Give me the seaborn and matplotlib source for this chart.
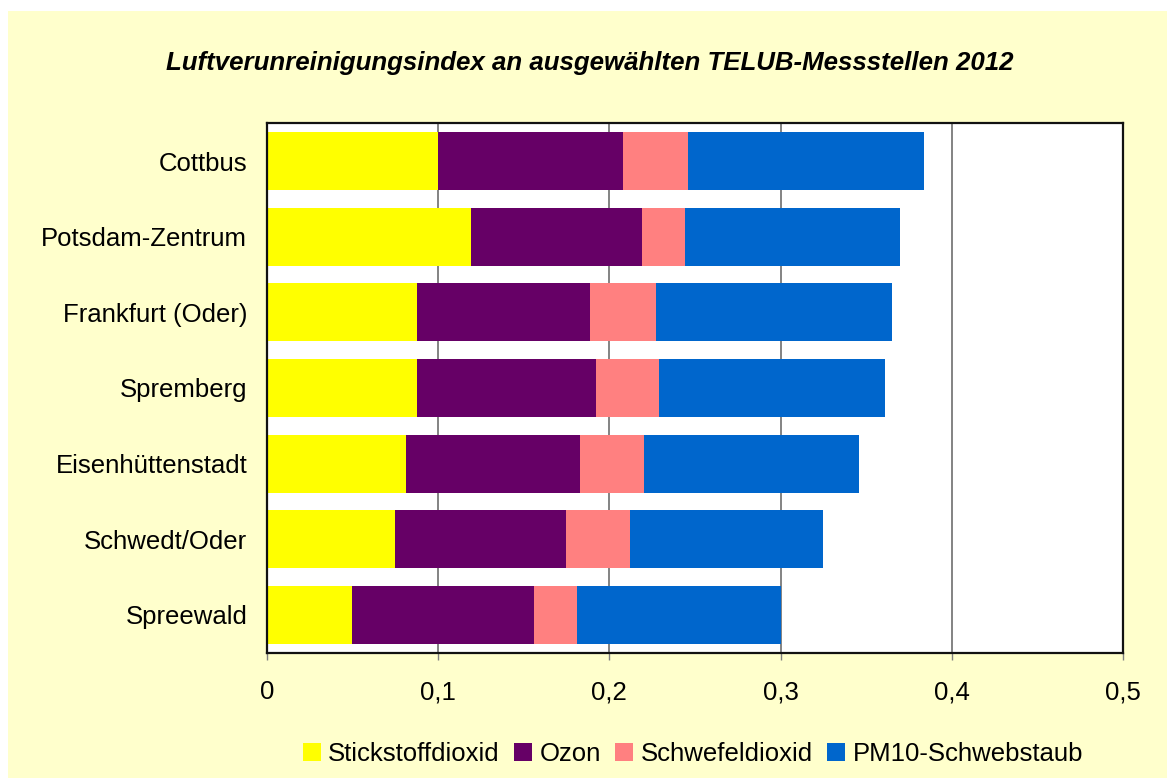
import numpy as np
import matplotlib
matplotlib.use("Agg")
import matplotlib.pyplot as plt
import seaborn as sns
from matplotlib.patches import Rectangle, Patch
from matplotlib.ticker import FuncFormatter

# Data (index values per pollutant)
stations = ["Cottbus", "Potsdam-Zentrum", "Frankfurt (Oder)", "Spremberg",
            "Eisenhüttenstadt", "Schwedt/Oder", "Spreewald"]
stickstoffdioxid = [0.100, 0.119, 0.088, 0.088, 0.081, 0.075, 0.050]
ozon = [0.108, 0.100, 0.101, 0.104, 0.102, 0.100, 0.106]
schwefeldioxid = [0.038, 0.025, 0.038, 0.037, 0.037, 0.037, 0.025]
pm10 = [0.138, 0.126, 0.138, 0.132, 0.126, 0.113, 0.119]

series_names = ["Stickstoffdioxid", "Ozon", "Schwefeldioxid", "PM10-Schwebstaub"]
colors = ["#FFFF00", "#660066", "#FF8080", "#0066CC"]

sns.set_theme(style="white")
plt.rcParams["font.family"] = ["Liberation Sans", "DejaVu Sans"]
plt.rcParams["text.color"] = "black"

fig = plt.figure(figsize=(11.67, 7.78), dpi=100)
fig.patch.set_facecolor("white")
fig.add_artist(Rectangle((8 / 1167, 0), 1 - 8 / 1167, 1 - 11 / 778,
                         transform=fig.transFigure, facecolor="#FFFFCC",
                         edgecolor="none", zorder=-1))

ax = fig.add_axes([266.8 / 1167, 1 - 652.7 / 778,
                   (1123 - 266.8) / 1167, (652.7 - 123.3) / 778])
ax.set_facecolor("white")

# cumulative stacks, drawn from the longest down
layers = [stickstoffdioxid, ozon, schwefeldioxid, pm10]
cum = np.cumsum(np.array(layers), axis=0)
for i in range(len(layers) - 1, -1, -1):
    sns.barplot(x=cum[i], y=stations, color=colors[i], orient="h",
                width=0.77, saturation=1, errorbar=None, linewidth=0,
                ax=ax, zorder=2)

ax.set_xlim(0, 0.5)
ax.set_ylim(6.5, -0.5)
ax.set_xticks([0, 0.1, 0.2, 0.3, 0.4, 0.5])
ax.xaxis.set_major_formatter(FuncFormatter(
    lambda v, p: "0" if v == 0 else f"{v:.1f}".replace(".", ",")))
ax.set_xlabel("")
ax.set_ylabel("")

ax.grid(axis="x", color="#6e6e6e", linewidth=1.2)
ax.grid(axis="y", visible=False)
ax.set_axisbelow(True)

for s in ax.spines.values():
    s.set_visible(True)
    s.set_color("#111111")
    s.set_linewidth(1.6)

ax.tick_params(axis="x", direction="out", length=5, width=1, color="#808080",
               pad=15, labelsize=18.5, labelcolor="black", bottom=True)
ax.tick_params(axis="y", length=0, pad=14, labelsize=18.5, labelcolor="black")

fig.text(590 / 1167, 1 - 63 / 778,
         "Luftverunreinigungsindex an ausgewählten TELUB-Messstellen 2012",
         ha="center", va="center", fontsize=18.6, fontweight="bold",
         fontstyle="italic", color="black")

handles = [Patch(facecolor=c, edgecolor="none") for c in colors]
fig.legend(handles, series_names, loc="center", ncol=4,
           bbox_to_anchor=(693 / 1167, 1 - 754 / 778), frameon=False,
           fontsize=18.5, handlelength=0.7, handleheight=0.7,
           handletextpad=0.3, columnspacing=0.55, borderpad=0)

fig.savefig("out.png", dpi=100, facecolor=fig.get_facecolor())
